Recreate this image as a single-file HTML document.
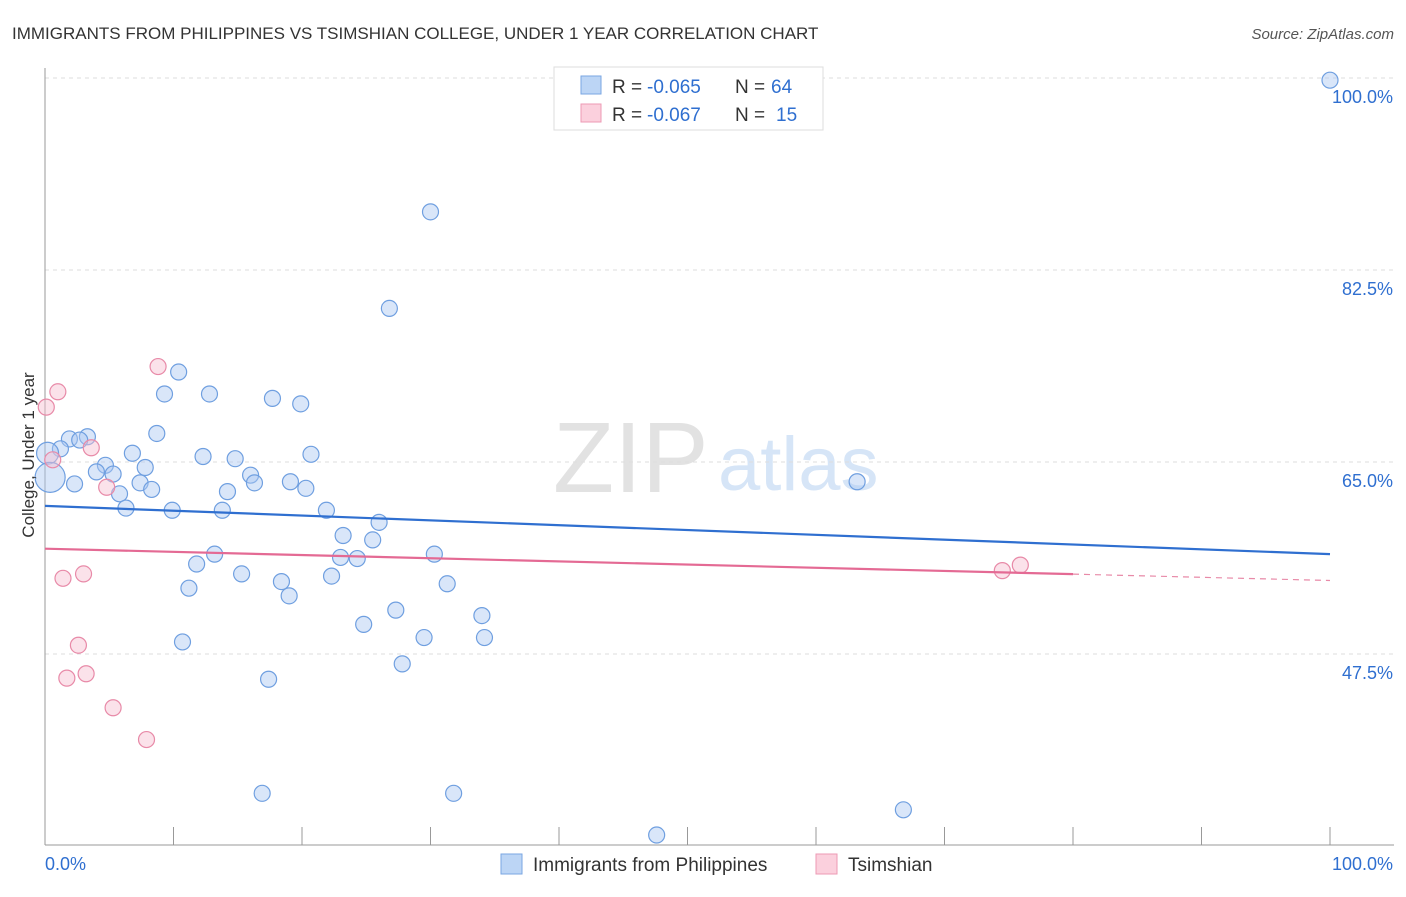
<!DOCTYPE html>
<html><head><meta charset="utf-8"><style>
body{margin:0;background:#fff;font-family:"Liberation Sans",sans-serif}
svg text{font-family:"Liberation Sans",sans-serif}
</style></head><body>
<svg id="c" width="1406" height="892" xmlns="http://www.w3.org/2000/svg">
<text x="12" y="39" font-size="17" fill="#333">IMMIGRANTS FROM PHILIPPINES VS TSIMSHIAN COLLEGE, UNDER 1 YEAR CORRELATION CHART</text>
<text x="1394" y="39" font-size="15" fill="#555" text-anchor="end" font-style="italic">Source: ZipAtlas.com</text>
<text x="553" y="492" font-size="100" fill="#e2e2e2" font-family="Liberation Serif">ZIP</text>
<text x="718" y="490" font-size="76" fill="#d6e5f7">atlas</text>
<g id="grid"></g><g id="marks"></g>
<text transform="translate(34,455) rotate(-90)" font-size="17" fill="#333" text-anchor="middle">College, Under 1 year</text>
<g>
<rect x="554" y="67" width="269" height="63" fill="#fff" stroke="#ddd"/>
<rect x="581" y="76" width="20" height="18" fill="#bcd5f5" stroke="#7aa6e2"/>
<rect x="581" y="104" width="20" height="18" fill="#fbd0dd" stroke="#ec9ab4"/>
<text x="612" y="93" font-size="19" fill="#333">R = </text><text x="647" y="93" font-size="19" fill="#2f6fd0">-0.065</text>
<text x="735" y="93" font-size="19" fill="#333">N = </text><text x="771" y="93" font-size="19" fill="#2f6fd0">64</text>
<text x="612" y="121" font-size="19" fill="#333">R = </text><text x="647" y="121" font-size="19" fill="#2f6fd0">-0.067</text>
<text x="735" y="121" font-size="19" fill="#333">N = </text><text x="776" y="121" font-size="19" fill="#2f6fd0">15</text>
</g>
<g>
<rect x="501" y="854" width="21" height="20" fill="#bcd5f5" stroke="#7aa6e2"/>
<text x="533" y="871" font-size="19" fill="#333">Immigrants from Philippines</text>
<rect x="816" y="854" width="21" height="20" fill="#fbd0dd" stroke="#ec9ab4"/>
<text x="848" y="871" font-size="19" fill="#333">Tsimshian</text>
</g>
</svg>
<script>
const yTicks=[47.5,65.0,82.5,100.0];
const xTickLabels=["0.0%","100.0%"];
const blueX=[100,30.0,26.8,10.4,9.3,12.8,17.7,19.9,8.7,3.3,1.9,2.7,1.2,6.8,12.3,20.7,14.8,4.7,7.8,4.0,5.3,16.0,7.4,16.3,19.1,2.3,20.3,8.3,14.2,5.8,6.3,9.9,13.8,21.9,26.0,23.2,25.5,13.2,23.0,24.3,30.3,11.8,15.3,22.3,18.4,31.3,11.2,19.0,27.3,34.0,24.8,29.5,34.2,10.7,27.8,17.4,16.9,31.8,47.6,66.8,63.2,0.2,0.4];
const blueY=[99.8,87.8,79.0,73.2,71.2,71.2,70.8,70.3,67.6,67.3,67.1,67.0,66.2,65.8,65.5,65.7,65.3,64.7,64.5,64.1,63.9,63.8,63.1,63.1,63.2,63.0,62.6,62.5,62.3,62.1,60.8,60.6,60.6,60.6,59.5,58.3,57.9,56.6,56.3,56.2,56.6,55.7,54.8,54.6,54.1,53.9,53.5,52.8,51.5,51.0,50.2,49.0,49.0,48.6,46.6,45.2,34.8,34.8,31.0,33.3,63.2,65.8,63.6];
const blueR=[8,8,8,8,8,8,8,8,8,8,8,8,8,8,8,8,8,8,8,8,8,8,8,8,8,8,8,8,8,8,8,8,8,8,8,8,8,8,8,8,8,8,8,8,8,8,8,8,8,8,8,8,8,8,8,8,8,8,8,8,8,11,15];
const pinkX=[0.1,1.0,8.8,3.6,0.6,4.8,1.4,3.0,2.6,1.7,3.2,5.3,7.9,74.5,75.9];
const pinkY=[70.0,71.4,73.7,66.3,65.2,62.7,54.4,54.8,48.3,45.3,45.7,42.6,39.7,55.1,55.6];
const blueTrend=[61.0,56.6];
const pinkTrend=[57.1,54.2];
const pinkSolidEnd=80;
const NS="http://www.w3.org/2000/svg";
const X=v=>45+v*12.85, Y=v=>78+(100-v)*192/17.5;
function mk(t,a,p){const e=document.createElementNS(NS,t);for(const k in a)e.setAttribute(k,a[k]);p.appendChild(e);return e;}
const g=document.getElementById('grid'),m=document.getElementById('marks');
yTicks.forEach(t=>{
 const l=mk('line',{x1:45,x2:1394,y1:Y(t),y2:Y(t),stroke:'#ddd','stroke-dasharray':'4,4'},g);
 
 
 const tx=mk('text',{x:1393,y:Y(t)+25,'font-size':18,fill:'#2f6fd0','text-anchor':'end'},g);
 tx.textContent=t.toFixed(1)+'%';
 
 
});
const ax=mk('line',{x1:45,x2:45,y1:68,y2:845,stroke:'#999'},g);


const bx=mk('line',{x1:45,x2:1394,y1:845,y2:845,stroke:'#999'},g);


for(let i=0;i<=10;i++){const t=mk('line',{x1:X(i*10),x2:X(i*10),y1:827,y2:845,stroke:'#999'},g);
 
 }
[[0,'start'],[100,'end']].forEach((d,i)=>{const t=mk('text',{x:X(d[0])+(i?63:0),y:870,'font-size':18,fill:'#2f6fd0','text-anchor':d[1]},g);t.textContent=xTickLabels[i];
 
 });
blueX.forEach((v,i)=>{const c=mk('circle',{cx:X(v),cy:Y(blueY[i]),r:blueR[i],fill:'rgba(170,200,242,0.45)',stroke:'#6f9fe0','stroke-width':1.2},m);
 
 });
pinkX.forEach((v,i)=>{const c=mk('circle',{cx:X(v),cy:Y(pinkY[i]),r:8,fill:'rgba(247,190,208,0.45)',stroke:'#e88aa8','stroke-width':1.2},m);
 
 });
const bl=mk('line',{x1:X(0),y1:Y(blueTrend[0]),x2:X(100),y2:Y(blueTrend[1]),stroke:'#2f6fd0','stroke-width':2.2},m);


const pe=pinkTrend[0]+(pinkTrend[1]-pinkTrend[0])*pinkSolidEnd/100;
const pl=mk('line',{x1:X(0),y1:Y(pinkTrend[0]),x2:X(pinkSolidEnd),y2:Y(pe),stroke:'#e46a94','stroke-width':2.2},m);


const pd=mk('line',{x1:X(pinkSolidEnd),y1:Y(pe),x2:X(100),y2:Y(pinkTrend[1]),stroke:'#e88aa8','stroke-width':1.2,'stroke-dasharray':'6,5'},m);


</script>
</body></html>
